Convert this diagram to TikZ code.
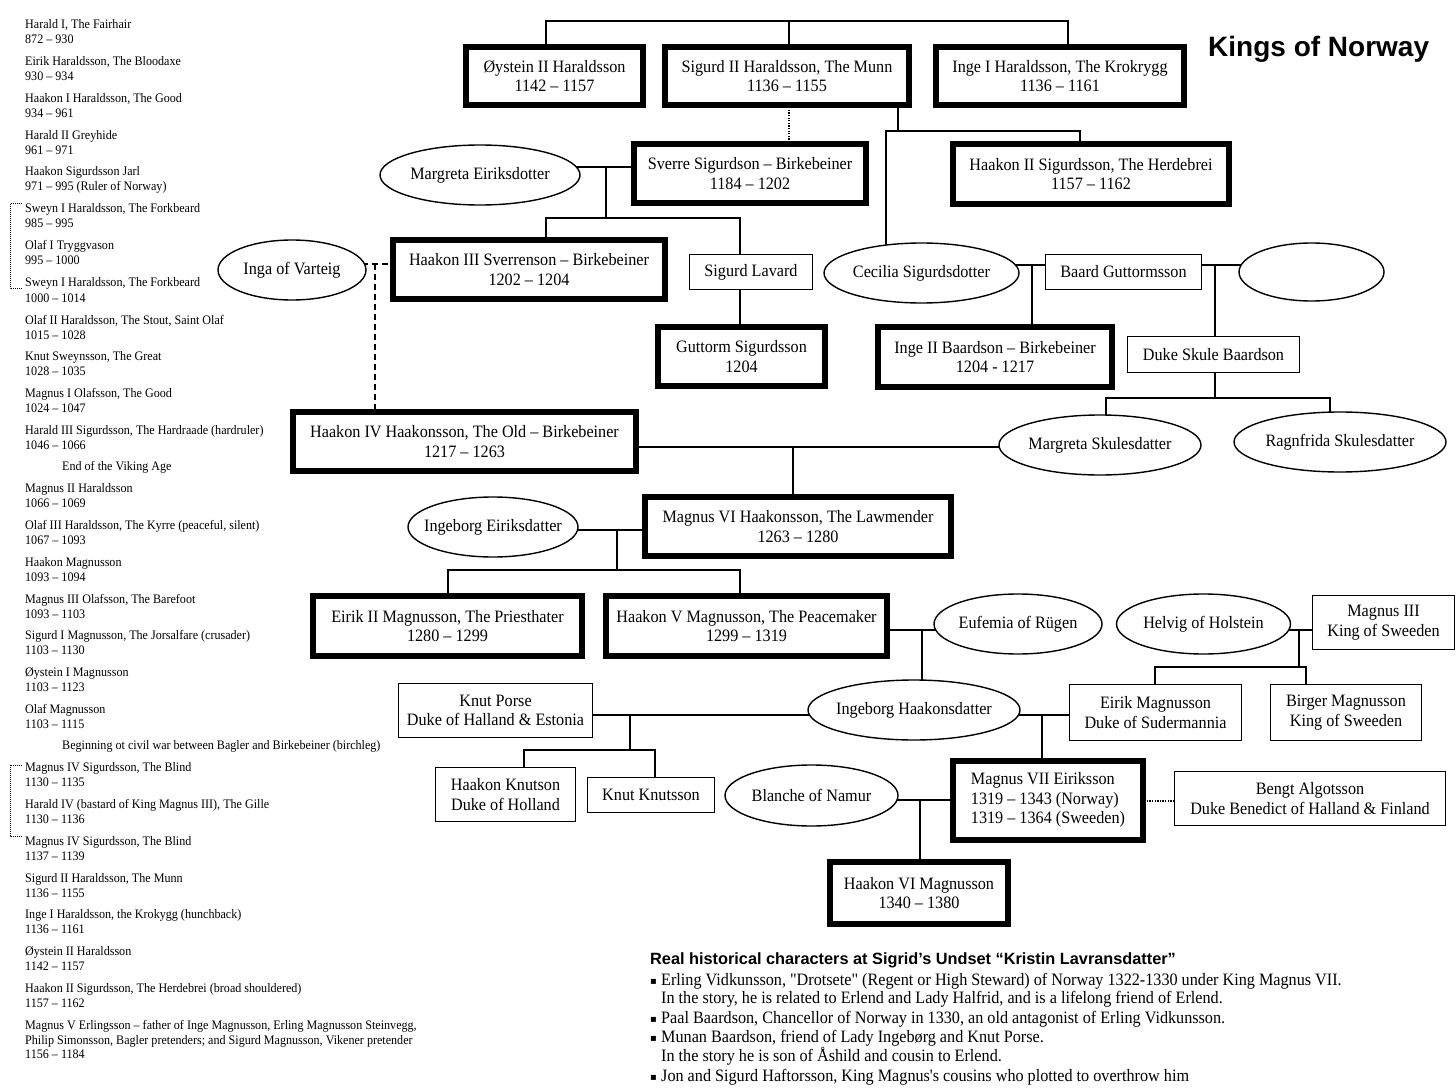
\documentclass[tikz,border=0pt]{standalone}
\usepackage{fontspec}
\setmainfont{Liberation Serif}[FakeStretch=0.93,Ligatures=TeXOff]
\newfontfamily\hdfont{Liberation Sans}
\newfontfamily\symfont{DejaVu Sans}
\usetikzlibrary{shapes.geometric,backgrounds}
\newcommand\zb[1]{\makebox[0pt]{#1}}
\begin{document}
\begin{tikzpicture}[x=1pt,y=-1pt,
  tf/.style={font=\fontsize{17.4}{19.5}\selectfont},
  kbox/.style={draw,line width=6pt,fill=white,inner sep=0pt,align=center,tf},
  tbox/.style={draw,line width=1.4pt,fill=white,inner sep=0pt,align=center,tf},
  pell/.style={draw,ellipse,line width=1.4pt,fill=white,inner sep=0pt,tf},
  link/.style={line width=1.4pt},
  dotlink/.style={line width=1.3pt,dash pattern=on 1.3pt off 1.3pt},
  dashlink/.style={line width=1.6pt,dash pattern=on 6pt off 4pt},
  sz/.style 2 args={minimum width=#1pt,minimum height=#2pt},
  lst/.style={anchor=base west,inner sep=0pt,font=\fontsize{13}{15}\selectfont},
  note/.style={anchor=base west,inner sep=0pt,font=\fontsize{17.4}{19}\selectfont},
]
\useasboundingbox (0,0) rectangle (1456,1091);

% ---------- left list ----------
\foreach \lx/\ly/\lt [count=\i] in {
 25/29/{Harald I, The Fairhair}, 25/44/{872 – 930},
 25/66/{Eirik Haraldsson, The Bloodaxe}, 25/81/{930 – 934},
 25/103/{Haakon I Haraldsson, The Good}, 25/118/{934 – 961},
 25/140/{Harald II Greyhide}, 25/155/{961 – 971},
 25/176/{Haakon Sigurdsson Jarl}, 25/191/{971 – 995 (Ruler of Norway)},
 25/213/{Sweyn I Haraldsson, The Forkbeard}, 25/228/{985 – 995},
 25/250/{Olaf I Tryggvason}, 25/265/{995 – 1000},
 25/287/{Sweyn I Haraldsson, The Forkbeard}, 25/302/{1000 – 1014},
 25/324/{Olaf II Haraldsson, The Stout, Saint Olaf}, 25/339/{1015 – 1028},
 25/360/{Knut Sweynsson, The Great}, 25/375/{1028 – 1035},
 25/397/{Magnus I Olafsson, The Good}, 25/412/{1024 – 1047},
 25/434/{Harald III Sigurdsson, The Hardraade (hardruler)}, 25/449/{1046 – 1066},
 62/470/{End of the Viking Age},
 25/492/{Magnus II Haraldsson}, 25/507/{1066 – 1069},
 25/529/{Olaf III Haraldsson, The Kyrre (peaceful, silent)}, 25/544/{1067 – 1093},
 25/566/{Haakon Magnusson}, 25/581/{1093 – 1094},
 25/603/{Magnus III Olafsson, The Barefoot}, 25/618/{1093 – 1103},
 25/639/{Sigurd I Magnusson, The Jorsalfare (crusader)}, 25/654/{1103 – 1130},
 25/676/{Øystein I Magnusson}, 25/691/{1103 – 1123},
 25/713/{Olaf Magnusson}, 25/728/{1103 – 1115},
 62/749/{Beginning ot civil war between Bagler and Birkebeiner (birchleg)},
 25/771/{Magnus IV Sigurdsson, The Blind}, 25/786/{1130 – 1135},
 25/808/{Harald IV (bastard of King Magnus III), The Gille}, 25/823/{1130 – 1136},
 25/845/{Magnus IV Sigurdsson, The Blind}, 25/860/{1137 – 1139},
 25/882/{Sigurd II Haraldsson, The Munn}, 25/897/{1136 – 1155},
 25/918/{Inge I Haraldsson, the Krokygg (hunchback)}, 25/933/{1136 – 1161},
 25/955/{Øystein II Haraldsson}, 25/970/{1142 – 1157},
 25/992/{Haakon II Sigurdsson, The Herdebrei (broad shouldered)}, 25/1007/{1157 – 1162},
 25/1029/{Magnus V Erlingsson – father of Inge Magnusson, Erling Magnusson Steinvegg,},
 25/1044/{Philip Simonsson, Bagler pretenders; and Sigurd Magnusson, Vikener pretender},
 25/1058/{1156 – 1184}}
 {\node[lst] (L\i) at (\lx,\ly) {\lt};}

\coordinate (ba1) at (22,204); \coordinate (ba2) at (10,204);
\coordinate (ba3) at (10,289); \coordinate (ba4) at (22,289);
\coordinate (bb1) at (22,765); \coordinate (bb2) at (10,765);
\coordinate (bb3) at (10,836); \coordinate (bb4) at (22,836);
\draw[line width=1pt,dash pattern=on 1pt off 1pt] (ba1) -- (ba2) -- (ba3) -- (ba4);
\draw[line width=1pt,dash pattern=on 1pt off 1pt] (bb1) -- (bb2) -- (bb3) -- (bb4);

% ---------- title ----------
\node[anchor=base west,inner sep=0pt,font=\hdfont\bfseries\fontsize{28}{32}\selectfont] (title) at (1208,57) {Kings of Norway};

% ---------- tree nodes ----------
\node[kbox,sz={177}{58}] (oy) at (554.5,76) {Øystein II Haraldsson\\1142 – 1157};
\node[kbox,sz={244}{58}] (sig) at (787,76) {Sigurd II Haraldsson, The Munn\\1136 – 1155};
\node[kbox,sz={248}{58}] (inge1) at (1060,76) {Inge I Haraldsson, The Krokrygg\\1136 – 1161};
\node[kbox,sz={232}{59}] (sverre) at (750,173.5) {Sverre Sigurdson – Birkebeiner\\1184 – 1202};
\node[kbox,sz={276}{60}] (haak2) at (1091,174) {Haakon II Sigurdsson, The Herdebrei\\1157 – 1162};
\node[pell,sz={200}{60}] (margE) at (480,175) {\zb{Margreta Eiriksdotter}};
\node[kbox,sz={272}{59}] (haak3) at (529,269.5) {Haakon III Sverrenson – Birkebeiner\\1202 – 1204};
\node[pell,sz={148}{60}] (inga) at (292,270) {\zb{Inga of Varteig}};
\node[tbox,sz={123}{35}] (lavard) at (751,272) {Sigurd Lavard};
\node[pell,sz={195}{60}] (cecilia) at (921.5,273) {\zb{Cecilia Sigurdsdotter}};
\node[tbox,sz={156}{35}] (baard) at (1123.5,272) {Baard Guttormsson};
\node[pell,sz={145}{58}] (empty) at (1311.5,272) {};
\node[kbox,sz={167}{59}] (gutt) at (741.5,356.5) {Guttorm Sigurdsson\\1204};
\node[kbox,sz={234}{60}] (inge2) at (995,357) {Inge II Baardson – Birkebeiner\\1204 - 1217};
\node[tbox,sz={172}{36}] (skule) at (1213.5,354.5) {Duke Skule Baardson};
\node[kbox,sz={343}{59}] (haak4) at (464.5,441.5) {Haakon IV Haakonsson, The Old – Birkebeiner\\1217 – 1263};
\node[pell,sz={202}{60}] (margS) at (1100,445) {\zb{Margreta Skulesdatter}};
\node[pell,sz={212}{60}] (ragn) at (1340,442) {\zb{Ragnfrida Skulesdatter}};
\node[kbox,sz={306}{59}] (mag6) at (798,526.5) {Magnus VI Haakonsson, The Lawmender\\1263 – 1280};
\node[pell,sz={170}{60}] (ingE) at (493,527) {\zb{Ingeborg Eiriksdatter}};
\node[kbox,sz={269}{60}] (eirik2) at (447.5,626) {Eirik II Magnusson, The Priesthater\\1280 – 1299};
\node[kbox,sz={281}{60}] (haak5) at (746.5,626) {Haakon V Magnusson, The Peacemaker\\1299 – 1319};
\node[pell,sz={168}{60}] (euf) at (1018,624) {\zb{Eufemia of Rügen}};
\node[pell,sz={174}{60}] (helvig) at (1203.5,624) {\zb{Helvig of Holstein}};
\node[tbox,sz={142}{54}] (mag3) at (1383.5,622.5) {Magnus III\\King of Sweeden};
\node[tbox,sz={194}{54}] (porse) at (495.5,710.5) {Knut Porse\\Duke of Halland \& Estonia};
\node[pell,sz={212}{60}] (ingH) at (914,710) {\zb{Ingeborg Haakonsdatter}};
\node[tbox,sz={172}{56}] (eirikM) at (1155.5,712.5) {Eirik Magnusson\\Duke of Sudermannia};
\node[tbox,sz={151}{56}] (birger) at (1346,712.5) {Birger Magnusson\\King of Sweeden};
\node[tbox,sz={140}{54}] (hknut) at (505.5,794.5) {Haakon Knutson\\Duke of Holland};
\node[tbox,sz={127}{35}] (kknut) at (651,795) {Knut Knutsson};
\node[pell,sz={173}{61}] (blanche) at (811.5,795.5) {\zb{Blanche of Namur}};
\node[kbox,sz={190}{79},align=left] (mag7) at (1048,800) {Magnus VII Eiriksson\\1319 – 1343 (Norway)\\1319 – 1364 (Sweeden)};
\node[tbox,sz={271}{54}] (bengt) at (1310,798.5) {Bengt Algotsson\\Duke Benedict of Halland \& Finland};
\node[kbox,sz={178}{62}] (haak6) at (919,893) {Haakon VI Magnusson\\1340 – 1380};

% ---------- junctions ----------
\coordinate (t1) at (546,21); \coordinate (t2) at (789,21); \coordinate (t3) at (1068,21);
\coordinate (s1) at (898,131); \coordinate (s2) at (886,131); \coordinate (s3) at (1080,131);
\coordinate (m1) at (606,167); \coordinate (m2) at (606,218); \coordinate (m3) at (546,218); \coordinate (m4) at (740,218);
\coordinate (d1) at (375,264);
\coordinate (c1) at (1032,265); \coordinate (e1) at (1215,265);
\coordinate (k1) at (1215,398); \coordinate (k2) at (1106,398); \coordinate (k3) at (1330,398);
\coordinate (h1) at (793,447);
\coordinate (i1) at (617,530); \coordinate (i2) at (617,570); \coordinate (i3) at (448,570); \coordinate (i4) at (740,570);
\coordinate (u1) at (922,630);
\coordinate (v1) at (1299,630); \coordinate (v2) at (1299,667); \coordinate (v3) at (1155,667); \coordinate (v4) at (1306,667);
\coordinate (p1) at (630,715); \coordinate (p2) at (630,750); \coordinate (p3) at (524,750); \coordinate (p4) at (655,750);
\coordinate (w1) at (1042,715);
\coordinate (b1) at (920,800);
\coordinate (g1) at (1160,801);

% ---------- connectors ----------
\begin{scope}[on background layer]
\fill[white] (0,0) rectangle (1456,1091);
\draw[link] (oy.center -| t1) -- (t1) -- (t3) -- (inge1.center -| t3);
\draw[link] (t2) -- (sig.center -| t2);
\draw[dotlink] (sig.center -| t2) -- (sverre.center -| t2);
\draw[link] (sig.center -| s1) -- (s1);
\draw[link] (cecilia.center -| s2) -- (s2) -- (s3) -- (haak2.center -| s3);
\draw[link] (margE.center |- m1) -- (sverre.center |- m1);
\draw[link] (m1) -- (m2);
\draw[link] (haak3.center -| m3) -- (m3) -- (m4) -- (lavard.center -| m4);
\draw[link] (lavard.center -| m4) -- (gutt.center -| m4);
\draw[dashlink] (inga.center |- d1) -- (haak3.center |- d1);
\draw[dashlink] (d1) -- (haak4.center -| d1);
\draw[link] (cecilia.center |- c1) -- (baard.center |- c1);
\draw[link] (c1) -- (inge2.center -| c1);
\draw[link] (baard.center |- e1) -- (empty.center |- e1);
\draw[link] (e1) -- (skule.center -| e1);
\draw[link] (skule.center -| k1) -- (k1);
\draw[link] (margS.center -| k2) -- (k2) -- (k3) -- (ragn.center -| k3);
\draw[link] (haak4.center |- h1) -- (margS.center |- h1);
\draw[link] (h1) -- (mag6.center -| h1);
\draw[link] (ingE.center |- i1) -- (mag6.center |- i1);
\draw[link] (i1) -- (i2);
\draw[link] (eirik2.center -| i3) -- (i3) -- (i4) -- (haak5.center -| i4);
\draw[link] (haak5.center |- u1) -- (euf.center |- u1);
\draw[link] (u1) -- (ingH.center -| u1);
\draw[link] (helvig.center |- v1) -- (mag3.center |- v1);
\draw[link] (v1) -- (v2);
\draw[link] (eirikM.center -| v3) -- (v3) -- (v4) -- (birger.center -| v4);
\draw[link] (porse.center |- p1) -- (ingH.center |- p1);
\draw[link] (p1) -- (p2);
\draw[link] (hknut.center -| p3) -- (p3) -- (p4) -- (kknut.center -| p4);
\draw[link] (ingH.center |- w1) -- (eirikM.center |- w1);
\draw[link] (w1) -- (mag7.center -| w1);
\draw[link] (blanche.center |- b1) -- (mag7.center |- b1);
\draw[link] (b1) -- (haak6.center -| b1);
\draw[dotlink] (mag7.center |- g1) -- (bengt.center |- g1);
\end{scope}

% ---------- notes ----------
\node[anchor=base west,inner sep=0pt,font=\hdfont\bfseries\fontsize{16.3}{19}\selectfont] (head) at (650,964) {Real historical characters at Sigrid’s Undset “Kristin Lavransdatter”};
\foreach \by [count=\j] in {985,1023,1042,1081}
  {\node[anchor=base west,inner sep=0pt,font=\symfont\fontsize{10}{12}\selectfont] (bul\j) at (650,\by-1) {▪};}
\node[note] (n1) at (661,985) {Erling Vidkunsson, "Drotsete" (Regent or High Steward) of Norway 1322-1330 under King Magnus VII.};
\node[note] (n2) at (661,1003) {In the story, he is related to Erlend and Lady Halfrid, and is a lifelong friend of Erlend.};
\node[note] (n3) at (661,1023) {Paal Baardson, Chancellor of Norway in 1330, an old antagonist of Erling Vidkunsson.};
\node[note] (n4) at (661,1042) {Munan Baardson, friend of Lady Ingebørg and Knut Porse.};
\node[note] (n5) at (661,1061) {In the story he is son of Åshild and cousin to Erlend.};
\node[note] (n6) at (661,1081) {Jon and Sigurd Haftorsson, King Magnus's cousins who plotted to overthrow him};
\end{tikzpicture}
\end{document}
